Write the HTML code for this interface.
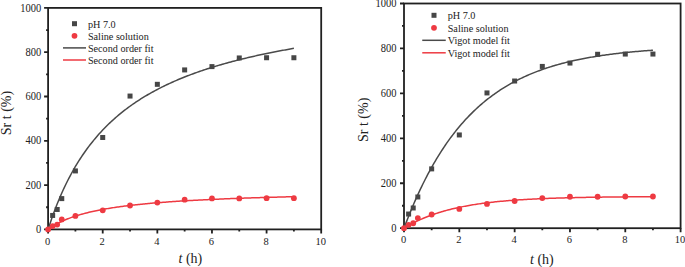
<!DOCTYPE html>
<html><head><meta charset="utf-8"><style>
html,body{margin:0;padding:0;background:#fff;}
body{width:685px;height:267px;overflow:hidden;}
svg{display:block;}
.tl{font-family:"Liberation Serif", serif;font-size:10.5px;fill:#222;}
.lg{font-family:"Liberation Serif", serif;font-size:10.2px;fill:#222;}
.at{font-family:"Liberation Serif", serif;font-size:14px;fill:#222;}
</style></head><body>
<svg width="685" height="267" viewBox="0 0 685 267">
<rect x="48.10" y="7.90" width="273.10" height="221.50" fill="none" stroke="#202020" stroke-width="1.8"/>
<path d="M48.10,229.40 v4 M75.41,229.40 v2 M102.72,229.40 v4 M130.03,229.40 v2 M157.34,229.40 v4 M184.65,229.40 v2 M211.96,229.40 v4 M239.27,229.40 v2 M266.58,229.40 v4 M293.89,229.40 v2 M321.20,229.40 v4 M48.10,229.40 h-4 M48.10,207.25 h-2 M48.10,185.10 h-4 M48.10,162.95 h-2 M48.10,140.80 h-4 M48.10,118.65 h-2 M48.10,96.50 h-4 M48.10,74.35 h-2 M48.10,52.20 h-4 M48.10,30.05 h-2 M48.10,7.90 h-4" stroke="#202020" stroke-width="1.8" fill="none"/>
<path d="M48.10,229.40 L49.34,225.59 L50.57,221.90 L51.81,218.32 L53.04,214.86 L54.28,211.50 L55.51,208.24 L56.75,205.07 L57.98,202.00 L59.22,199.01 L60.45,196.11 L61.69,193.29 L62.92,190.55 L64.16,187.88 L65.39,185.28 L66.63,182.75 L67.86,180.28 L69.10,177.88 L70.33,175.54 L71.57,173.26 L72.80,171.03 L74.04,168.86 L75.27,166.74 L76.51,164.67 L77.74,162.65 L78.98,160.68 L80.21,158.75 L81.45,156.87 L82.68,155.03 L83.92,153.23 L85.15,151.46 L86.39,149.74 L87.62,148.05 L88.86,146.40 L90.09,144.79 L91.33,143.21 L92.56,141.66 L93.80,140.14 L95.03,138.65 L96.27,137.19 L97.51,135.77 L98.74,134.37 L99.98,132.99 L101.21,131.65 L102.45,130.32 L103.68,129.03 L104.92,127.75 L106.15,126.51 L107.39,125.28 L108.62,124.08 L109.86,122.89 L111.09,121.73 L112.33,120.59 L113.56,119.47 L114.80,118.37 L116.03,117.29 L117.27,116.23 L118.50,115.18 L119.74,114.15 L120.97,113.14 L122.21,112.15 L123.44,111.17 L124.68,110.21 L125.91,109.26 L127.15,108.33 L128.38,107.42 L129.62,106.51 L130.85,105.63 L132.09,104.75 L133.32,103.89 L134.56,103.04 L135.79,102.21 L137.03,101.39 L138.26,100.58 L139.50,99.78 L140.73,98.99 L141.97,98.22 L143.20,97.45 L144.44,96.70 L145.67,95.96 L146.91,95.23 L148.15,94.51 L149.38,93.80 L150.62,93.09 L151.85,92.40 L153.09,91.72 L154.32,91.05 L155.56,90.39 L156.79,89.73 L158.03,89.08 L159.26,88.45 L160.50,87.82 L161.73,87.20 L162.97,86.58 L164.20,85.98 L165.44,85.38 L166.67,84.79 L167.91,84.21 L169.14,83.64 L170.38,83.07 L171.61,82.51 L172.85,81.95 L174.08,81.41 L175.32,80.87 L176.55,80.33 L177.79,79.81 L179.02,79.29 L180.26,78.77 L181.49,78.26 L182.73,77.76 L183.96,77.26 L185.20,76.77 L186.43,76.29 L187.67,75.81 L188.90,75.33 L190.14,74.87 L191.37,74.40 L192.61,73.94 L193.84,73.49 L195.08,73.04 L196.32,72.60 L197.55,72.16 L198.79,71.73 L200.02,71.30 L201.26,70.87 L202.49,70.45 L203.73,70.04 L204.96,69.63 L206.20,69.22 L207.43,68.82 L208.67,68.42 L209.90,68.03 L211.14,67.64 L212.37,67.25 L213.61,66.87 L214.84,66.49 L216.08,66.12 L217.31,65.75 L218.55,65.38 L219.78,65.02 L221.02,64.66 L222.25,64.30 L223.49,63.95 L224.72,63.60 L225.96,63.26 L227.19,62.92 L228.43,62.58 L229.66,62.24 L230.90,61.91 L232.13,61.58 L233.37,61.26 L234.60,60.93 L235.84,60.61 L237.07,60.30 L238.31,59.98 L239.54,59.67 L240.78,59.36 L242.01,59.06 L243.25,58.76 L244.48,58.46 L245.72,58.16 L246.96,57.86 L248.19,57.57 L249.43,57.28 L250.66,57.00 L251.90,56.71 L253.13,56.43 L254.37,56.15 L255.60,55.88 L256.84,55.60 L258.07,55.33 L259.31,55.06 L260.54,54.79 L261.78,54.53 L263.01,54.27 L264.25,54.00 L265.48,53.75 L266.72,53.49 L267.95,53.24 L269.19,52.98 L270.42,52.74 L271.66,52.49 L272.89,52.24 L274.13,52.00 L275.36,51.76 L276.60,51.52 L277.83,51.28 L279.07,51.04 L280.30,50.81 L281.54,50.58 L282.77,50.35 L284.01,50.12 L285.24,49.89 L286.48,49.67 L287.71,49.44 L288.95,49.22 L290.18,49.00 L291.42,48.79 L292.65,48.57 L293.89,48.36" fill="none" stroke="#4a4a4a" stroke-width="1.5"/>
<path d="M48.10,229.40 L49.34,228.52 L50.57,227.68 L51.81,226.87 L53.04,226.10 L54.28,225.35 L55.51,224.64 L56.75,223.95 L57.98,223.29 L59.22,222.66 L60.45,222.05 L61.69,221.46 L62.92,220.89 L64.16,220.34 L65.39,219.81 L66.63,219.30 L67.86,218.81 L69.10,218.33 L70.33,217.86 L71.57,217.41 L72.80,216.98 L74.04,216.56 L75.27,216.15 L76.51,215.75 L77.74,215.37 L78.98,214.99 L80.21,214.63 L81.45,214.27 L82.68,213.93 L83.92,213.60 L85.15,213.27 L86.39,212.95 L87.62,212.65 L88.86,212.35 L90.09,212.05 L91.33,211.77 L92.56,211.49 L93.80,211.22 L95.03,210.95 L96.27,210.69 L97.51,210.44 L98.74,210.20 L99.98,209.95 L101.21,209.72 L102.45,209.49 L103.68,209.26 L104.92,209.04 L106.15,208.83 L107.39,208.62 L108.62,208.41 L109.86,208.21 L111.09,208.01 L112.33,207.82 L113.56,207.63 L114.80,207.45 L116.03,207.27 L117.27,207.09 L118.50,206.91 L119.74,206.74 L120.97,206.57 L122.21,206.41 L123.44,206.25 L124.68,206.09 L125.91,205.93 L127.15,205.78 L128.38,205.63 L129.62,205.48 L130.85,205.34 L132.09,205.20 L133.32,205.06 L134.56,204.92 L135.79,204.79 L137.03,204.65 L138.26,204.52 L139.50,204.40 L140.73,204.27 L141.97,204.15 L143.20,204.03 L144.44,203.91 L145.67,203.79 L146.91,203.67 L148.15,203.56 L149.38,203.45 L150.62,203.34 L151.85,203.23 L153.09,203.12 L154.32,203.02 L155.56,202.91 L156.79,202.81 L158.03,202.71 L159.26,202.61 L160.50,202.51 L161.73,202.42 L162.97,202.32 L164.20,202.23 L165.44,202.14 L166.67,202.04 L167.91,201.95 L169.14,201.87 L170.38,201.78 L171.61,201.69 L172.85,201.61 L174.08,201.53 L175.32,201.44 L176.55,201.36 L177.79,201.28 L179.02,201.20 L180.26,201.12 L181.49,201.05 L182.73,200.97 L183.96,200.90 L185.20,200.82 L186.43,200.75 L187.67,200.68 L188.90,200.61 L190.14,200.54 L191.37,200.47 L192.61,200.40 L193.84,200.33 L195.08,200.26 L196.32,200.20 L197.55,200.13 L198.79,200.07 L200.02,200.00 L201.26,199.94 L202.49,199.88 L203.73,199.82 L204.96,199.75 L206.20,199.69 L207.43,199.64 L208.67,199.58 L209.90,199.52 L211.14,199.46 L212.37,199.40 L213.61,199.35 L214.84,199.29 L216.08,199.24 L217.31,199.18 L218.55,199.13 L219.78,199.08 L221.02,199.02 L222.25,198.97 L223.49,198.92 L224.72,198.87 L225.96,198.82 L227.19,198.77 L228.43,198.72 L229.66,198.67 L230.90,198.62 L232.13,198.57 L233.37,198.53 L234.60,198.48 L235.84,198.43 L237.07,198.39 L238.31,198.34 L239.54,198.30 L240.78,198.25 L242.01,198.21 L243.25,198.17 L244.48,198.12 L245.72,198.08 L246.96,198.04 L248.19,198.00 L249.43,197.95 L250.66,197.91 L251.90,197.87 L253.13,197.83 L254.37,197.79 L255.60,197.75 L256.84,197.71 L258.07,197.67 L259.31,197.64 L260.54,197.60 L261.78,197.56 L263.01,197.52 L264.25,197.49 L265.48,197.45 L266.72,197.41 L267.95,197.38 L269.19,197.34 L270.42,197.31 L271.66,197.27 L272.89,197.24 L274.13,197.20 L275.36,197.17 L276.60,197.13 L277.83,197.10 L279.07,197.07 L280.30,197.03 L281.54,197.00 L282.77,196.97 L284.01,196.94 L285.24,196.90 L286.48,196.87 L287.71,196.84 L288.95,196.81 L290.18,196.78 L291.42,196.75 L292.65,196.72 L293.89,196.69" fill="none" stroke="#ee3a42" stroke-width="1.5"/>
<rect x="50.15" y="212.95" width="5" height="5" fill="#464646"/>
<rect x="54.70" y="206.97" width="5" height="5" fill="#464646"/>
<rect x="59.26" y="196.11" width="5" height="5" fill="#464646"/>
<rect x="72.91" y="168.42" width="5" height="5" fill="#464646"/>
<rect x="100.22" y="134.98" width="5" height="5" fill="#464646"/>
<rect x="127.53" y="93.56" width="5" height="5" fill="#464646"/>
<rect x="154.84" y="81.82" width="5" height="5" fill="#464646"/>
<rect x="182.15" y="67.42" width="5" height="5" fill="#464646"/>
<rect x="209.46" y="64.10" width="5" height="5" fill="#464646"/>
<rect x="236.77" y="55.46" width="5" height="5" fill="#464646"/>
<rect x="264.08" y="55.24" width="5" height="5" fill="#464646"/>
<rect x="291.39" y="55.24" width="5" height="5" fill="#464646"/>
<circle cx="48.10" cy="229.40" r="2.9" fill="#ee3a42"/>
<circle cx="52.65" cy="226.08" r="2.9" fill="#ee3a42"/>
<circle cx="57.20" cy="224.53" r="2.9" fill="#ee3a42"/>
<circle cx="61.76" cy="219.43" r="2.9" fill="#ee3a42"/>
<circle cx="75.41" cy="215.89" r="2.9" fill="#ee3a42"/>
<circle cx="102.72" cy="210.35" r="2.9" fill="#ee3a42"/>
<circle cx="130.03" cy="205.48" r="2.9" fill="#ee3a42"/>
<circle cx="157.34" cy="202.60" r="2.9" fill="#ee3a42"/>
<circle cx="184.65" cy="199.72" r="2.9" fill="#ee3a42"/>
<circle cx="211.96" cy="198.39" r="2.9" fill="#ee3a42"/>
<circle cx="239.27" cy="198.39" r="2.9" fill="#ee3a42"/>
<circle cx="266.58" cy="198.17" r="2.9" fill="#ee3a42"/>
<circle cx="293.89" cy="198.17" r="2.9" fill="#ee3a42"/>
<text transform="translate(47.60,244.50) scale(1,1.06)" text-anchor="middle" class="tl">0</text>
<text transform="translate(102.22,244.50) scale(1,1.06)" text-anchor="middle" class="tl">2</text>
<text transform="translate(156.84,244.50) scale(1,1.06)" text-anchor="middle" class="tl">4</text>
<text transform="translate(211.46,244.50) scale(1,1.06)" text-anchor="middle" class="tl">6</text>
<text transform="translate(266.08,244.50) scale(1,1.06)" text-anchor="middle" class="tl">8</text>
<text transform="translate(320.70,244.50) scale(1,1.06)" text-anchor="middle" class="tl">10</text>
<text transform="translate(41.20,233.00) scale(1,1.1)" text-anchor="end" class="tl">0</text>
<text transform="translate(41.20,188.70) scale(1,1.1)" text-anchor="end" class="tl">200</text>
<text transform="translate(41.20,144.40) scale(1,1.1)" text-anchor="end" class="tl">400</text>
<text transform="translate(41.20,100.10) scale(1,1.1)" text-anchor="end" class="tl">600</text>
<text transform="translate(41.20,55.80) scale(1,1.1)" text-anchor="end" class="tl">800</text>
<text transform="translate(41.20,11.50) scale(1,1.1)" text-anchor="end" class="tl">1000</text>
<text x="178.5" y="262.5" class="at"><tspan font-style="italic">t</tspan> (h)</text>
<text transform="translate(11.2,135.2) rotate(-90)" class="at">Sr t (%)</text>
<rect x="72.00" y="21.20" width="5" height="5" fill="#464646"/>
<circle cx="74.50" cy="35.80" r="2.9" fill="#ee3a42"/>
<path d="M63.00,47.90 h23" stroke="#4a4a4a" stroke-width="1.5"/>
<path d="M63.00,60.00 h23" stroke="#ee3a42" stroke-width="1.5"/>
<text transform="translate(87.90,27.60) scale(1,1.07)" class="lg">pH 7.0</text>
<text transform="translate(87.90,39.70) scale(1,1.07)" class="lg">Saline solution</text>
<text transform="translate(87.90,51.80) scale(1,1.07)" class="lg">Second order fit</text>
<text transform="translate(87.90,63.90) scale(1,1.07)" class="lg">Second order fit</text>
<rect x="404.00" y="3.50" width="276.60" height="224.70" fill="none" stroke="#202020" stroke-width="1.8"/>
<path d="M404.00,228.20 v4 M431.66,228.20 v2 M459.32,228.20 v4 M486.98,228.20 v2 M514.64,228.20 v4 M542.30,228.20 v2 M569.96,228.20 v4 M597.62,228.20 v2 M625.28,228.20 v4 M652.94,228.20 v2 M680.60,228.20 v4 M404.00,228.20 h-4 M404.00,205.73 h-2 M404.00,183.26 h-4 M404.00,160.79 h-2 M404.00,138.32 h-4 M404.00,115.85 h-2 M404.00,93.38 h-4 M404.00,70.91 h-2 M404.00,48.44 h-4 M404.00,25.97 h-2 M404.00,3.50 h-4" stroke="#202020" stroke-width="1.8" fill="none"/>
<path d="M404.00,228.20 L405.25,224.88 L406.50,221.62 L407.75,218.42 L409.00,215.28 L410.25,212.19 L411.51,209.16 L412.76,206.19 L414.01,203.27 L415.26,200.40 L416.51,197.59 L417.76,194.82 L419.01,192.11 L420.26,189.44 L421.51,186.83 L422.76,184.26 L424.02,181.74 L425.27,179.26 L426.52,176.83 L427.77,174.44 L429.02,172.10 L430.27,169.80 L431.52,167.54 L432.77,165.32 L434.02,163.14 L435.27,161.01 L436.52,158.91 L437.78,156.85 L439.03,154.82 L440.28,152.83 L441.53,150.88 L442.78,148.97 L444.03,147.09 L445.28,145.24 L446.53,143.43 L447.78,141.65 L449.03,139.90 L450.29,138.18 L451.54,136.50 L452.79,134.85 L454.04,133.22 L455.29,131.63 L456.54,130.06 L457.79,128.52 L459.04,127.02 L460.29,125.53 L461.54,124.08 L462.79,122.65 L464.05,121.25 L465.30,119.87 L466.55,118.52 L467.80,117.19 L469.05,115.89 L470.30,114.61 L471.55,113.35 L472.80,112.12 L474.05,110.91 L475.30,109.72 L476.56,108.55 L477.81,107.40 L479.06,106.28 L480.31,105.17 L481.56,104.09 L482.81,103.02 L484.06,101.98 L485.31,100.95 L486.56,99.94 L487.81,98.95 L489.06,97.98 L490.32,97.03 L491.57,96.09 L492.82,95.17 L494.07,94.27 L495.32,93.38 L496.57,92.51 L497.82,91.65 L499.07,90.81 L500.32,89.99 L501.57,89.18 L502.83,88.39 L504.08,87.61 L505.33,86.84 L506.58,86.09 L507.83,85.35 L509.08,84.62 L510.33,83.91 L511.58,83.21 L512.83,82.53 L514.08,81.85 L515.33,81.19 L516.59,80.54 L517.84,79.91 L519.09,79.28 L520.34,78.67 L521.59,78.06 L522.84,77.47 L524.09,76.89 L525.34,76.32 L526.59,75.76 L527.84,75.21 L529.10,74.67 L530.35,74.13 L531.60,73.61 L532.85,73.10 L534.10,72.60 L535.35,72.11 L536.60,71.62 L537.85,71.15 L539.10,70.68 L540.35,70.22 L541.61,69.77 L542.86,69.33 L544.11,68.90 L545.36,68.47 L546.61,68.05 L547.86,67.64 L549.11,67.24 L550.36,66.84 L551.61,66.45 L552.86,66.07 L554.11,65.70 L555.37,65.33 L556.62,64.97 L557.87,64.61 L559.12,64.27 L560.37,63.92 L561.62,63.59 L562.87,63.26 L564.12,62.94 L565.37,62.62 L566.62,62.31 L567.88,62.00 L569.13,61.70 L570.38,61.40 L571.63,61.11 L572.88,60.83 L574.13,60.55 L575.38,60.28 L576.63,60.01 L577.88,59.74 L579.13,59.48 L580.38,59.23 L581.64,58.98 L582.89,58.73 L584.14,58.49 L585.39,58.25 L586.64,58.02 L587.89,57.79 L589.14,57.57 L590.39,57.35 L591.64,57.13 L592.89,56.92 L594.15,56.71 L595.40,56.51 L596.65,56.31 L597.90,56.11 L599.15,55.92 L600.40,55.72 L601.65,55.54 L602.90,55.36 L604.15,55.18 L605.40,55.00 L606.65,54.83 L607.91,54.65 L609.16,54.49 L610.41,54.32 L611.66,54.16 L612.91,54.00 L614.16,53.85 L615.41,53.70 L616.66,53.55 L617.91,53.40 L619.16,53.25 L620.42,53.11 L621.67,52.97 L622.92,52.84 L624.17,52.70 L625.42,52.57 L626.67,52.44 L627.92,52.31 L629.17,52.19 L630.42,52.07 L631.67,51.95 L632.92,51.83 L634.18,51.71 L635.43,51.60 L636.68,51.49 L637.93,51.38 L639.18,51.27 L640.43,51.17 L641.68,51.06 L642.93,50.96 L644.18,50.86 L645.43,50.76 L646.69,50.66 L647.94,50.57 L649.19,50.48 L650.44,50.39 L651.69,50.30 L652.94,50.21" fill="none" stroke="#4a4a4a" stroke-width="1.5"/>
<path d="M404.00,228.20 L405.25,227.44 L406.50,226.70 L407.75,225.97 L409.00,225.27 L410.25,224.58 L411.51,223.90 L412.76,223.25 L414.01,222.61 L415.26,221.98 L416.51,221.37 L417.76,220.77 L419.01,220.19 L420.26,219.62 L421.51,219.07 L422.76,218.53 L424.02,218.00 L425.27,217.48 L426.52,216.98 L427.77,216.49 L429.02,216.01 L430.27,215.54 L431.52,215.08 L432.77,214.64 L434.02,214.20 L435.27,213.78 L436.52,213.36 L437.78,212.96 L439.03,212.56 L440.28,212.18 L441.53,211.80 L442.78,211.43 L444.03,211.07 L445.28,210.72 L446.53,210.38 L447.78,210.05 L449.03,209.72 L450.29,209.40 L451.54,209.09 L452.79,208.79 L454.04,208.50 L455.29,208.21 L456.54,207.93 L457.79,207.65 L459.04,207.38 L460.29,207.12 L461.54,206.87 L462.79,206.62 L464.05,206.37 L465.30,206.14 L466.55,205.90 L467.80,205.68 L469.05,205.46 L470.30,205.24 L471.55,205.03 L472.80,204.83 L474.05,204.63 L475.30,204.43 L476.56,204.24 L477.81,204.05 L479.06,203.87 L480.31,203.69 L481.56,203.52 L482.81,203.35 L484.06,203.18 L485.31,203.02 L486.56,202.87 L487.81,202.71 L489.06,202.56 L490.32,202.42 L491.57,202.27 L492.82,202.13 L494.07,202.00 L495.32,201.87 L496.57,201.74 L497.82,201.61 L499.07,201.49 L500.32,201.37 L501.57,201.25 L502.83,201.13 L504.08,201.02 L505.33,200.91 L506.58,200.80 L507.83,200.70 L509.08,200.60 L510.33,200.50 L511.58,200.40 L512.83,200.31 L514.08,200.22 L515.33,200.13 L516.59,200.04 L517.84,199.95 L519.09,199.87 L520.34,199.79 L521.59,199.71 L522.84,199.63 L524.09,199.55 L525.34,199.48 L526.59,199.41 L527.84,199.33 L529.10,199.27 L530.35,199.20 L531.60,199.13 L532.85,199.07 L534.10,199.01 L535.35,198.94 L536.60,198.88 L537.85,198.83 L539.10,198.77 L540.35,198.71 L541.61,198.66 L542.86,198.61 L544.11,198.56 L545.36,198.50 L546.61,198.46 L547.86,198.41 L549.11,198.36 L550.36,198.31 L551.61,198.27 L552.86,198.23 L554.11,198.18 L555.37,198.14 L556.62,198.10 L557.87,198.06 L559.12,198.02 L560.37,197.99 L561.62,197.95 L562.87,197.91 L564.12,197.88 L565.37,197.84 L566.62,197.81 L567.88,197.78 L569.13,197.75 L570.38,197.72 L571.63,197.69 L572.88,197.66 L574.13,197.63 L575.38,197.60 L576.63,197.57 L577.88,197.54 L579.13,197.52 L580.38,197.49 L581.64,197.47 L582.89,197.44 L584.14,197.42 L585.39,197.40 L586.64,197.37 L587.89,197.35 L589.14,197.33 L590.39,197.31 L591.64,197.29 L592.89,197.27 L594.15,197.25 L595.40,197.23 L596.65,197.21 L597.90,197.19 L599.15,197.17 L600.40,197.16 L601.65,197.14 L602.90,197.12 L604.15,197.11 L605.40,197.09 L606.65,197.08 L607.91,197.06 L609.16,197.05 L610.41,197.03 L611.66,197.02 L612.91,197.01 L614.16,196.99 L615.41,196.98 L616.66,196.97 L617.91,196.95 L619.16,196.94 L620.42,196.93 L621.67,196.92 L622.92,196.91 L624.17,196.90 L625.42,196.89 L626.67,196.88 L627.92,196.87 L629.17,196.86 L630.42,196.85 L631.67,196.84 L632.92,196.83 L634.18,196.82 L635.43,196.81 L636.68,196.80 L637.93,196.79 L639.18,196.78 L640.43,196.78 L641.68,196.77 L642.93,196.76 L644.18,196.75 L645.43,196.75 L646.69,196.74 L647.94,196.73 L649.19,196.72 L650.44,196.72 L651.69,196.71 L652.94,196.71" fill="none" stroke="#ee3a42" stroke-width="1.5"/>
<rect x="406.11" y="211.54" width="5" height="5" fill="#464646"/>
<rect x="410.72" y="205.48" width="5" height="5" fill="#464646"/>
<rect x="415.33" y="194.47" width="5" height="5" fill="#464646"/>
<rect x="429.16" y="166.38" width="5" height="5" fill="#464646"/>
<rect x="456.82" y="132.45" width="5" height="5" fill="#464646"/>
<rect x="484.48" y="90.43" width="5" height="5" fill="#464646"/>
<rect x="512.14" y="78.52" width="5" height="5" fill="#464646"/>
<rect x="539.80" y="63.92" width="5" height="5" fill="#464646"/>
<rect x="567.46" y="60.55" width="5" height="5" fill="#464646"/>
<rect x="595.12" y="51.78" width="5" height="5" fill="#464646"/>
<rect x="622.78" y="51.56" width="5" height="5" fill="#464646"/>
<rect x="650.44" y="51.56" width="5" height="5" fill="#464646"/>
<circle cx="404.00" cy="228.20" r="2.9" fill="#ee3a42"/>
<circle cx="408.61" cy="224.83" r="2.9" fill="#ee3a42"/>
<circle cx="413.22" cy="223.26" r="2.9" fill="#ee3a42"/>
<circle cx="417.83" cy="218.09" r="2.9" fill="#ee3a42"/>
<circle cx="431.66" cy="214.49" r="2.9" fill="#ee3a42"/>
<circle cx="459.32" cy="208.88" r="2.9" fill="#ee3a42"/>
<circle cx="486.98" cy="203.93" r="2.9" fill="#ee3a42"/>
<circle cx="514.64" cy="201.01" r="2.9" fill="#ee3a42"/>
<circle cx="542.30" cy="198.09" r="2.9" fill="#ee3a42"/>
<circle cx="569.96" cy="196.74" r="2.9" fill="#ee3a42"/>
<circle cx="597.62" cy="196.74" r="2.9" fill="#ee3a42"/>
<circle cx="625.28" cy="196.52" r="2.9" fill="#ee3a42"/>
<circle cx="652.94" cy="196.52" r="2.9" fill="#ee3a42"/>
<text transform="translate(403.50,243.30) scale(1,1.06)" text-anchor="middle" class="tl">0</text>
<text transform="translate(458.82,243.30) scale(1,1.06)" text-anchor="middle" class="tl">2</text>
<text transform="translate(514.14,243.30) scale(1,1.06)" text-anchor="middle" class="tl">4</text>
<text transform="translate(569.46,243.30) scale(1,1.06)" text-anchor="middle" class="tl">6</text>
<text transform="translate(624.78,243.30) scale(1,1.06)" text-anchor="middle" class="tl">8</text>
<text transform="translate(680.10,243.30) scale(1,1.06)" text-anchor="middle" class="tl">10</text>
<text transform="translate(396.50,231.60) scale(1,1.1)" text-anchor="end" class="tl">0</text>
<text transform="translate(396.50,186.66) scale(1,1.1)" text-anchor="end" class="tl">200</text>
<text transform="translate(396.50,141.72) scale(1,1.1)" text-anchor="end" class="tl">400</text>
<text transform="translate(396.50,96.78) scale(1,1.1)" text-anchor="end" class="tl">600</text>
<text transform="translate(396.50,51.84) scale(1,1.1)" text-anchor="end" class="tl">800</text>
<text transform="translate(396.50,6.90) scale(1,1.1)" text-anchor="end" class="tl">1000</text>
<text x="530" y="263.7" class="at"><tspan font-style="italic">t</tspan> (h)</text>
<text transform="translate(367.8,142.0) rotate(-90)" class="at">Sr t (%)</text>
<rect x="431.50" y="12.80" width="5" height="5" fill="#464646"/>
<circle cx="434.00" cy="27.80" r="2.9" fill="#ee3a42"/>
<path d="M422.25,40.30 h23.5" stroke="#4a4a4a" stroke-width="1.5"/>
<path d="M422.25,52.80 h23.5" stroke="#ee3a42" stroke-width="1.5"/>
<text transform="translate(447.70,19.20) scale(1,1.07)" class="lg">pH 7.0</text>
<text transform="translate(447.70,31.70) scale(1,1.07)" class="lg">Saline solution</text>
<text transform="translate(447.70,44.20) scale(1,1.07)" class="lg">Vigot model fit</text>
<text transform="translate(447.70,56.70) scale(1,1.07)" class="lg">Vigot model fit</text>
</svg>
</body></html>
